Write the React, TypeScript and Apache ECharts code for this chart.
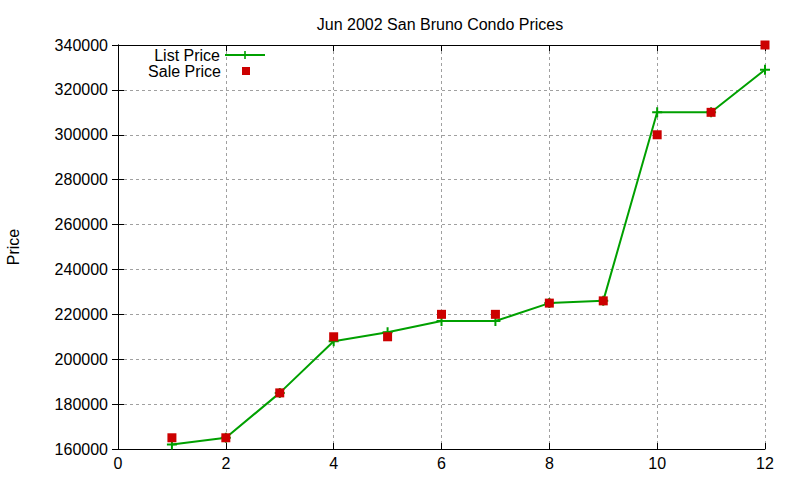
import React, { useEffect, useRef } from 'react';
import * as echarts from 'echarts';

const months = [1, 2, 3, 4, 5, 6, 7, 8, 9, 10, 11, 12];
const listPrice = [
  162000, 165000, 185000, 208000, 212000, 217000, 217000, 225000, 226000, 310000, 310000, 329000,
];
const salePrice = [
  165000, 165000, 185000, 210000, 210000, 220000, 220000, 225000, 226000, 300000, 310000, 340000,
];

const FONT = '"Liberation Sans", Arial, sans-serif';
const PLUS = 'path://M4,0H6V4H10V6H6V10H4V6H0V4H4Z';
// square in the middle of a 40px wide box, the corner dots only stretch the bounds
const LEGEND_SQUARE = 'path://M0,0L0.01,0L0.01,0.01Z M16,0.5H24V8.5H16Z M39.99,9L40,9L40,8.99Z';

function buildOption(): echarts.EChartsOption {
  const tickCommon = {
    axisLine: { show: true, lineStyle: { color: '#000', width: 1 } },
    axisTick: { show: true, inside: true, length: 6, lineStyle: { color: '#000' } },
  };
  const legendText = { fontFamily: FONT, fontSize: 16, color: '#000' };
  return {
    animation: false,
    backgroundColor: '#fff',
    textStyle: { fontFamily: FONT },
    title: {
      text: 'Jun 2002 San Bruno Condo Prices',
      left: 435,
      top: 11,
      textAlign: 'center',
      textStyle: { fontFamily: FONT, fontSize: 16, fontWeight: 'normal', color: '#000' },
    },
    legend: [
      {
        data: ['List Price'],
        orient: 'vertical',
        align: 'right',
        right: 534,
        top: 47,
        padding: 0,
        itemWidth: 40,
        itemHeight: 10,
        textStyle: legendText,
      },
      {
        data: [{ name: 'Sale Price', icon: LEGEND_SQUARE }],
        orient: 'vertical',
        align: 'right',
        right: 534,
        top: 63,
        padding: 0,
        itemWidth: 40,
        itemHeight: 9,
        textStyle: legendText,
      },
    ],
    grid: {
      left: 118,
      right: 35,
      top: 45,
      bottom: 31,
      containLabel: false,
      outerBoundsMode: 'none',
    },
    xAxis: [
      {
        type: 'value',
        min: 0,
        max: 12,
        interval: 2,
        ...tickCommon,
        axisLabel: { fontFamily: FONT, fontSize: 16, color: '#000', margin: 6 },
        splitLine: { show: true, lineStyle: { color: '#a0a0a0', type: [3, 3], width: 1 } },
      },
      {
        type: 'value',
        position: 'top',
        min: 0,
        max: 12,
        interval: 2,
        ...tickCommon,
        axisLabel: { show: false },
        splitLine: { show: false },
      },
    ],
    yAxis: [
      {
        type: 'value',
        min: 160000,
        max: 340000,
        interval: 20000,
        name: 'Price',
        nameLocation: 'middle',
        nameRotate: 90,
        nameGap: 97,
        nameTextStyle: { fontFamily: FONT, fontSize: 16, color: '#000' },
        ...tickCommon,
        axisLabel: {
          fontFamily: FONT,
          fontSize: 16,
          color: '#000',
          margin: 10,
          formatter: (v: number) => String(v),
        },
        splitLine: { show: true, lineStyle: { color: '#a0a0a0', type: [3, 3], width: 1 } },
      },
      {
        type: 'value',
        position: 'right',
        min: 160000,
        max: 340000,
        interval: 20000,
        ...tickCommon,
        axisLabel: { show: false },
        splitLine: { show: false },
      },
    ],
    series: [
      {
        name: 'List Price',
        type: 'line',
        data: months.map((m, i) => [m, listPrice[i]]),
        symbol: PLUS,
        symbolSize: 10,
        showAllSymbol: true,
        lineStyle: { color: '#00a000', width: 2 },
        itemStyle: { color: '#00a000', opacity: 1 },
        z: 2,
      },
      {
        name: 'Sale Price',
        type: 'scatter',
        data: months.map((m, i) => [m, salePrice[i]]),
        symbol: 'rect',
        symbolSize: 9,
        itemStyle: { color: '#cc0000', opacity: 1 },
        z: 3,
      },
    ],
  };
}

export default function App() {
  const ref = useRef<HTMLDivElement | null>(null);

  useEffect(() => {
    if (!ref.current) return undefined;
    const chart = echarts.init(ref.current, undefined, { renderer: 'svg' });
    chart.setOption(buildOption());
    return () => {
      chart.dispose();
    };
  }, []);

  return (
    <div
      ref={ref}
      style={{ position: 'absolute', left: 0, top: 0, width: 800, height: 480 }}
    />
  );
}
